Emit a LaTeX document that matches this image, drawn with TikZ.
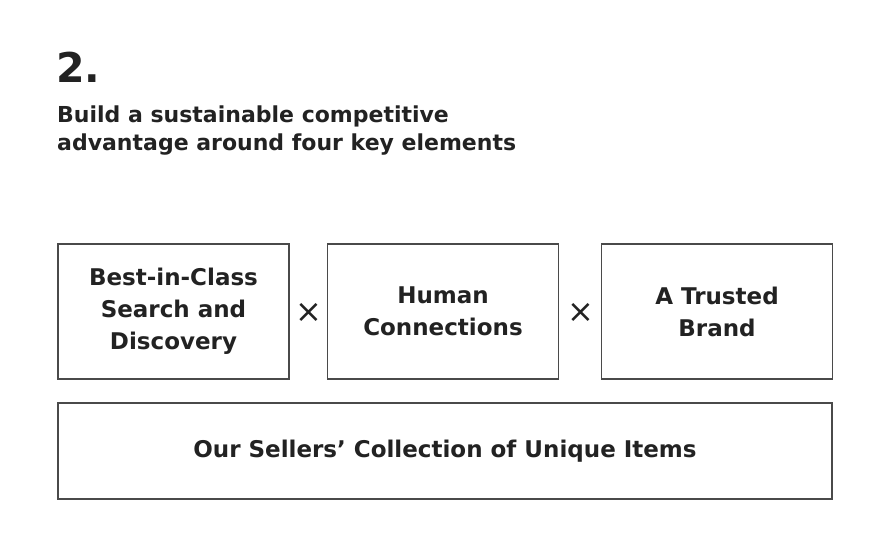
\documentclass[tikz,border=0pt]{standalone}
\usepackage{fontspec}
\setmainfont{DejaVu Sans}
\usepackage{xcolor}
\definecolor{inkgray}{HTML}{222222}
\definecolor{framegray}{HTML}{4A4A4A}

\begin{document}
\begin{tikzpicture}[x=1pt,y=-1pt,
    element/.style={draw=framegray,line width=1.8pt,inner sep=0pt,align=center,text=inkgray,
        font=\fontsize{23}{32}\selectfont\bfseries,minimum height=135pt,minimum width=231pt},
    times/.style={text=inkgray,inner sep=0pt,font=\fontsize{32}{32}\selectfont}]
    \useasboundingbox[fill=white] (0,0) rectangle (879,542);

    \node[anchor=base west,inner sep=0pt,text=inkgray,font=\fontsize{41}{41}\selectfont\bfseries] (number) at (56,82) {2.};
    \node[anchor=base west,inner sep=0pt,align=left,text=inkgray,font=\fontsize{22}{28}\selectfont\bfseries] (goal) at (57,150)
        {Build a sustainable competitive\\advantage around four key elements};

    \node[element] (search) at (173.5,311.5) {Best-in-Class\\Search and\\Discovery};
    \node[element] (human) at (443,311.5) {Human\\Connections};
    \node[element] (brand) at (717,311.5) {A Trusted\\Brand};
    \node[element,minimum width=774pt,minimum height=96pt] (collection) at (445,451.3) {Our Sellers’ Collection of Unique Items};

    \node[times] (times a) at (308.5,313) {×};
    \node[times] (times b) at (580.5,313) {×};
\end{tikzpicture}
\end{document}
